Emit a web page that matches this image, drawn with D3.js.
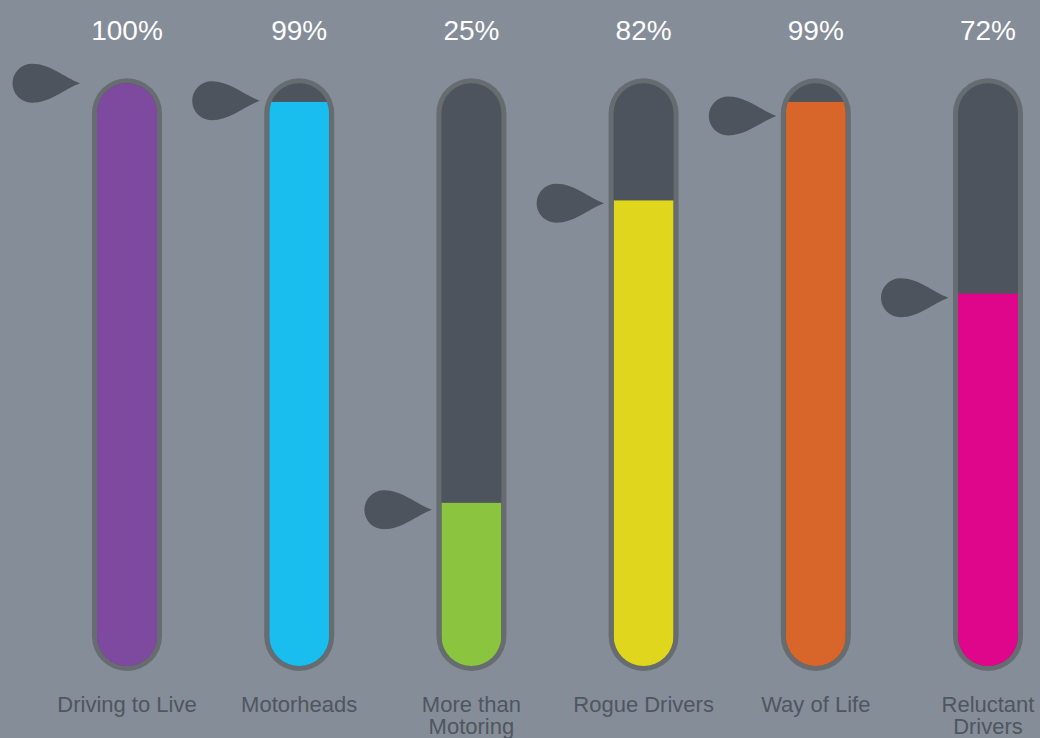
<!DOCTYPE html>
<html>
<head>
<meta charset="utf-8">
<script src="https://cdn.jsdelivr.net/npm/d3@7"></script>
<style>
  html, body { margin: 0; padding: 0; background: #858d99; }
  svg { display: block; }
</style>
</head>
<body>
<svg id="chart" width="1040" height="738"></svg>
<script>
// ---- data ----
const categories = ["Driving to Live", "Motorheads", "More than Motoring", "Rogue Drivers", "Way of Life", "Reluctant Drivers"];
const labelLines = [["Driving to Live"], ["Motorheads"], ["More than", "Motoring"], ["Rogue Drivers"], ["Way of Life"], ["Reluctant", "Drivers"]];
const valueLabels = ["100%", "99%", "25%", "82%", "99%", "72%"];
const fillLevels = [100, 96.8, 28, 79.9, 96.8, 63.9];      // fill height as drawn (% of tube)
const markerLevels = [100, 97, 26.8, 79.4, 94.4, 63.2];    // pointer position (% of tube)
const colors = ["#7e4a9f", "#19bdee", "#8bc53f", "#e0d61d", "#d8662a", "#e0068b"];

// ---- layout ----
const W = 1040, H = 738;
const svg = d3.select("#chart");
svg.append("rect").attr("width", W).attr("height", H).attr("fill", "#858d99");

const innerTop = 83.3, innerBottom = 666;
const border = 5, innerHalf = 30;

const x = d3.scalePoint().domain(categories).range([127, 988]);
const y = d3.scaleLinear().domain([0, 100]).range([innerBottom, innerTop]);

const data = categories.map((c, i) => ({
  cat: c, lines: labelLines[i], label: valueLabels[i],
  fill: fillLevels[i], marker: markerLevels[i], color: colors[i], i
}));

const defs = svg.append("defs");
defs.selectAll("clipPath").data(data).join("clipPath")
  .attr("id", d => "clip" + d.i)
  .append("rect")
  .attr("x", d => x(d.cat) - innerHalf)
  .attr("y", y(100))
  .attr("width", innerHalf * 2)
  .attr("height", y(0) - y(100))
  .attr("rx", innerHalf).attr("ry", innerHalf);

const g = svg.selectAll("g.tube").data(data).join("g").attr("class", "tube");

// outer border
g.append("rect")
  .attr("x", d => x(d.cat) - innerHalf - border)
  .attr("y", y(100) - border)
  .attr("width", (innerHalf + border) * 2)
  .attr("height", y(0) - y(100) + border * 2)
  .attr("rx", innerHalf + border).attr("ry", innerHalf + border)
  .attr("fill", "#666c70");

// inner dark
g.append("rect")
  .attr("x", d => x(d.cat) - innerHalf)
  .attr("y", y(100))
  .attr("width", innerHalf * 2)
  .attr("height", y(0) - y(100))
  .attr("rx", innerHalf).attr("ry", innerHalf)
  .attr("fill", "#4d545d");

// fill
g.append("rect")
  .attr("clip-path", d => `url(#clip${d.i})`)
  .attr("x", d => x(d.cat) - innerHalf)
  .attr("y", d => y(d.fill))
  .attr("width", innerHalf * 2)
  .attr("height", d => y(0) - y(d.fill))
  .attr("fill", d => d.color);

// pointer (teardrop)
function drop(tx, ty) {
  const r = 19.5, cx = tx - 48, cy = ty;
  return `M${cx},${cy - r} C${cx + 18},${cy - r} ${cx + 32},${cy - 6} ${tx},${ty}` +
         ` C${cx + 32},${cy + 6} ${cx + 18},${cy + r} ${cx},${cy + r}` +
         ` A${r},${r} 0 0 1 ${cx},${cy - r} Z`;
}
g.append("path")
  .attr("d", d => {
    const tx = x(d.cat) - innerHalf - border - (d.marker >= 100 ? 12 : 4.5);
    return drop(tx, y(d.marker));
  })
  .attr("fill", "#4d545d");

// value labels
g.append("text")
  .attr("x", d => x(d.cat))
  .attr("y", 39.5)
  .attr("text-anchor", "middle")
  .attr("font-family", "'Liberation Sans', Arial, sans-serif")
  .attr("font-size", 28)
  .attr("fill", "#ffffff")
  .text(d => d.label);

// category labels
g.append("text")
  .attr("text-anchor", "middle")
  .attr("font-family", "'Liberation Sans', Arial, sans-serif")
  .attr("font-size", 22)
  .attr("fill", "#4f565f")
  .each(function(d) {
    const t = d3.select(this);
    const base = d.lines.length > 1 ? 712 : 712;
    d.lines.forEach((ln, k) => {
      t.append("tspan").attr("x", x(d.cat)).attr("y", base + k * 22).text(ln);
    });
  });
</script>
</body>
</html>
